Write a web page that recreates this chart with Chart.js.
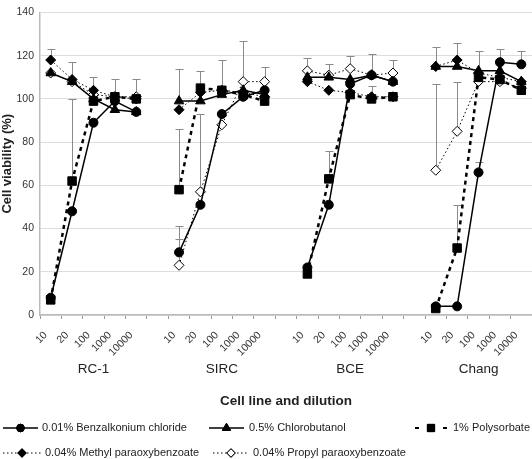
<!DOCTYPE html>
<html>
<head>
<meta charset="utf-8">
<script src="https://cdn.jsdelivr.net/npm/chart.js@4/dist/chart.umd.min.js"></script>
<style>
  html, body { margin: 0; padding: 0; background: #fff; }
  #wrap { width: 532px; height: 459px; position: relative; }
</style>
</head>
<body>
<div id="wrap"><canvas id="myChart" width="532" height="459"></canvas></div>
<script>
// dilutions per cell line, empty slot between groups
var dilutions = ['10', '20', '100', '1000', '10000'];
var cellLines = ['RC-1', 'SIRC', 'BCE', 'Chang'];

// cell viability (%) per cell line
var benzalkonium = [[8, 48, 89, 99, 94], [29, 51, 93, 101, 104], [22, 51, 107, 111, 108], [4, 4, 66, 117, 116]];
var chlorobutanol = [[112, 108, 100, 95, 94], [99, 99, 102, 104, 102], [110, 110, 109, 111, 108], [115, 115, 113, 113, 108]];
var polysorbate = [[7, 62, 99, 101, 100], [58, 105, 104, 102, 99], [19, 63, 102, 100, 101], [3, 31, 110, 109, 104]];
var methyl = [[118, 109, 104, 101, 100], [95, 103, 104, 103, 101], [108, 104, 103, 101, 101], [115, 118, 112, 110, 108]];
var propyl = [[112, 108, 102, 101, 101], [23, 57, 88, 108, 108], [113, 111, 114, 111, 112], [67, 85, 108, 108, 105]];

// upper error (SD), null where no bar is visible
var benzalkoniumErr = [[null, null, null, null, null], [12, null, null, null, null], [null, null, null, null, null], [null, null, 5, 6, 6]];
var chlorobutanolErr = [[null, null, null, null, null], [15, null, null, null, null], [null, null, null, null, null], [9, null, null, null, null]];
var polysorbateErr = [[null, 38, null, 8, null], [28, 8, null, null, null], [null, 13, null, 6, null], [null, 20, null, null, null]];
var methylErr = [[5, 8, 6, null, null], [null, null, 14, null, null], [null, null, null, null, null], [null, 8, 10, null, null]];
var propylErr = [[null, null, null, null, 8], [12, 36, null, 19, 7], [6, 5, 6, 10, 6], [40, 23, null, null, null]];

var yTicks = [0, 20, 40, 60, 80, 100, 120, 140];

function flat(groups) {
  var out = [];
  groups.forEach(function (g, i) {
    if (i > 0) out.push(null);
    g.forEach(function (v) { out.push(v); });
  });
  return out;
}

var labels = flat(cellLines.map(function () { return dilutions; }));
labels = labels.map(function (l) { return l === null ? '' : l; });
var groupLabels = flat(cellLines.map(function (c) { return ['', '', c, '', '']; }));
groupLabels = groupLabels.map(function (l) { return l === null ? '' : l; });

var black = '#000';
var series = [
  { label: '0.01% Benzalkonium chloride', data: benzalkonium, err: benzalkoniumErr, style: 'circle', r: 4.5, fill: black, dash: [], width: 1.5 },
  { label: '0.5% Chlorobutanol', data: chlorobutanol, err: chlorobutanolErr, style: 'triangle', r: 5.5, fill: black, dash: [], width: 1.5 },
  { label: '1% Polysorbate', data: polysorbate, err: polysorbateErr, style: 'rect', r: 6, fill: black, dash: [4, 4], width: 2.5 },
  { label: '0.04% Methyl paraoxybenzoate', data: methyl, err: methylErr, style: 'rectRot', r: 5, fill: black, dash: [1.5, 2.5], width: 1 },
  { label: '0.04% Propyl paraoxybenzoate', data: propyl, err: propylErr, style: 'rectRot', r: 5, fill: '#fff', dash: [1.5, 2.5], width: 1 }
];

var datasets = series.map(function (s) {
  return {
    label: s.label,
    data: flat(s.data),
    errUp: flat(s.err),
    borderColor: black,
    borderWidth: s.width,
    borderDash: s.dash,
    pointStyle: s.style,
    pointRadius: s.r,
    pointBackgroundColor: s.fill,
    pointBorderColor: black,
    pointBorderWidth: 1,
    tension: 0,
    spanGaps: false,
    clip: false
  };
});

var errorBars = {
  id: 'errorBars',
  beforeDatasetsDraw: function (chart) {
    var c = chart.ctx, ys = chart.scales.y;
    c.save();
    c.strokeStyle = '#8a8a8a';
    c.lineWidth = 1;
    chart.data.datasets.forEach(function (ds, di) {
      var meta = chart.getDatasetMeta(di);
      ds.errUp.forEach(function (e, i) {
        if (e === null || ds.data[i] === null) return;
        var x = Math.round(meta.data[i].x) + 0.5;
        var y0 = ys.getPixelForValue(ds.data[i]);
        var y1 = Math.round(ys.getPixelForValue(ds.data[i] + e)) + 0.5;
        c.beginPath();
        c.moveTo(x, y0);
        c.lineTo(x, y1);
        c.moveTo(x - 4, y1);
        c.lineTo(x + 4, y1);
        c.stroke();
      });
    });
    c.restore();
  }
};

// legend: [line start, line length, text x, row y]
var legendPos = [[3, 35, 42, 428], [209, 35, 249, 428], [415, 32, 453, 428], [3, 38, 45, 453], [213, 36, 253, 453]];

var legendBox = {
  id: 'legendBox',
  afterDraw: function (chart) {
    var c = chart.ctx;
    c.save();
    c.font = '11px "Liberation Sans", Arial, sans-serif';
    c.textBaseline = 'middle';
    series.forEach(function (s, i) {
      var p = legendPos[i], x = p[0], lw = p[1], y = p[3];
      c.strokeStyle = black;
      c.lineWidth = s.width;
      c.beginPath();
      if (s.style === 'rect') {
        c.lineWidth = 2;
        c.moveTo(x, y); c.lineTo(x + 4, y);
        c.moveTo(x + lw - 4, y); c.lineTo(x + lw, y);
      } else {
        c.setLineDash(s.dash);
        c.moveTo(x, y); c.lineTo(x + lw, y);
      }
      c.stroke();
      c.setLineDash([]);
      c.lineWidth = 1;
      Chart.helpers.drawPoint(c, { pointStyle: s.style, radius: s.r * 0.85, borderWidth: 1 }, x + lw / 2, y);
      c.fillStyle = s.fill;
      c.fill();
      c.stroke();
      c.fillStyle = '#222';
      c.fillText(s.label, p[2], y);
    });
    c.restore();
  }
};

var font = '"Liberation Sans", Arial, sans-serif';
Chart.defaults.font.family = font;
Chart.defaults.color = '#333';

var ctx = document.getElementById('myChart').getContext('2d');
var myChart = new Chart(ctx, {
  type: 'line',
  data: { labels: labels, datasets: datasets },
  plugins: [errorBars, legendBox],
  options: {
    responsive: false,
    animation: false,
    layout: { autoPadding: false, padding: { top: 12.5, right: 0, bottom: 50, left: 0 } },
    plugins: { legend: { display: false }, tooltip: { enabled: false } },
    scales: {
      x: {
        offset: true,
        weight: 0,
        afterFit: function (s) { s.height = 46; s.paddingLeft = 0; s.paddingRight = 0; },
        grid: { display: true, drawOnChartArea: false, offset: true, tickLength: 4, color: '#999' },
        border: { color: '#bbb', width: 1.5 },
        ticks: { autoSkip: false, maxRotation: 45, minRotation: 45, padding: 10, labelOffset: -5, font: { size: 10.5 } }
      },
      x2: {
        type: 'category',
        position: 'bottom',
        labels: groupLabels,
        offset: true,
        weight: 1,
        afterFit: function (s) { s.height = 48; s.paddingLeft = 0; s.paddingRight = 0; },
        grid: { display: false, drawTicks: false },
        border: { display: false },
        ticks: { autoSkip: false, maxRotation: 0, padding: 0, font: { size: 13.5 }, color: '#222' },
        title: { display: true, text: 'Cell line and dilution', font: { size: 13.5, weight: 'bold' }, color: '#222', padding: { top: 12, bottom: 0 } }
      },
      y: {
        min: 0,
        max: 140,
        afterBuildTicks: function (axis) { axis.ticks = yTicks.map(function (v) { return { value: v }; }); },
        afterFit: function (s) { s.width = 40; },
        grid: { color: '#ddd', drawTicks: false },
        border: { color: '#bbb', width: 1.5 },
        ticks: { padding: 6, font: { size: 10.5 } },
        title: { display: true, text: 'Cell viability (%)', font: { size: 13, weight: 'bold' }, color: '#222', padding: { top: 0, bottom: 2 } }
      }
    }
  }
});
</script>
</body>
</html>
